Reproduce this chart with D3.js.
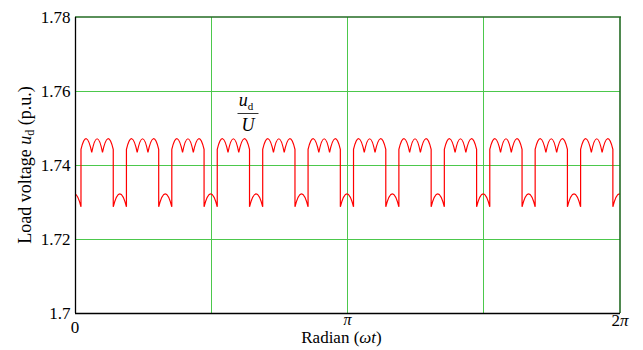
<!DOCTYPE html>
<html>
<head>
<meta charset="utf-8">
<script src="https://cdn.jsdelivr.net/npm/d3@7"></script>
<style>
  body { margin: 0; background: #fff; }
</style>
</head>
<body>
<svg id="chart" width="643" height="350" font-family="'Liberation Serif', 'Times New Roman', serif"></svg>
<script>
const yTicks = [1.7, 1.72, 1.74, 1.76, 1.78];
const yTickLabels = ['1.7', '1.72', '1.74', '1.76', '1.78'];
const xGrid = [Math.PI / 2, Math.PI, 3 * Math.PI / 2];

// rising / falling edges of the upper pulses (rad)
const riseAngles = [0.069, 0.593, 1.116, 1.640, 2.164, 2.687, 3.211, 3.734, 4.258, 4.782, 5.305, 5.829, 6.352];
const fallAngles = [-0.082, 0.441, 0.965, 1.488, 2.012, 2.536, 3.059, 3.583, 4.106, 4.630, 5.154, 5.677, 6.201];

// voltage levels (p.u.)
const highEdge = 1.7442;
const highPeak = 1.7471;
const highCusp = 1.7434;
const lowEdge = 1.7287;
const lowPeak = 1.7322;

const margin = {left: 75, right: 23, top: 17, bottom: 37};
const width = 643, height = 350;

const svg = d3.select('#chart');

const x = d3.scaleLinear()
  .domain([0, 2 * Math.PI])
  .range([margin.left, width - margin.right]);

const y = d3.scaleLinear()
  .domain([1.7, 1.78])
  .range([height - margin.bottom, margin.top]);

const snap = v => Math.floor(v) + 0.5;
const gridColor = '#4cc84c';

// grid
svg.append('g')
  .selectAll('line')
  .data(xGrid)
  .enter().append('line')
  .attr('x1', d => snap(x(d))).attr('x2', d => snap(x(d)))
  .attr('y1', y(1.7)).attr('y2', y(1.78))
  .attr('stroke', gridColor)
  .attr('stroke-width', 1);

svg.append('g')
  .selectAll('line')
  .data(yTicks.slice(1, -1))
  .enter().append('line')
  .attr('x1', x(0)).attr('x2', x(2 * Math.PI))
  .attr('y1', d => snap(y(d))).attr('y2', d => snap(y(d)))
  .attr('stroke', gridColor)
  .attr('stroke-width', 1);

// waveform
svg.append('clipPath')
  .attr('id', 'plot-clip')
  .append('rect')
  .attr('x', x(0)).attr('y', y(1.78))
  .attr('width', x(2 * Math.PI) - x(0))
  .attr('height', y(1.7) - y(1.78));

function hump(p, a, b, y0, y1, peak) {
  const cy = 2 * peak - (y0 + y1) / 2;
  p.quadraticCurveTo(x((a + b) / 2), y(cy), x(b), y(y1));
}

const p = d3.path();
p.moveTo(x(fallAngles[0]), y(lowEdge));
riseAngles.forEach((rise, i) => {
  // low hump between previous fall and this rise
  hump(p, fallAngles[i], rise, lowEdge, lowEdge, lowPeak);
  if (i === riseAngles.length - 1) return;
  const fall = fallAngles[i + 1];
  p.lineTo(x(rise), y(highEdge));
  const step = (fall - rise) / 3;
  for (let j = 0; j < 3; j++) {
    const a = rise + j * step;
    const b = a + step;
    hump(p, a, b, j === 0 ? highEdge : highCusp, j === 2 ? highEdge : highCusp, highPeak);
  }
  p.lineTo(x(fall), y(lowEdge));
});

svg.append('path')
  .attr('d', p.toString())
  .attr('clip-path', 'url(#plot-clip)')
  .attr('fill', 'none')
  .attr('stroke', '#ff0000')
  .attr('stroke-width', 1.2)
  .attr('stroke-linejoin', 'miter');

// frame: top and right dark green, left and bottom black
svg.append('line')
  .attr('x1', x(0)).attr('x2', x(2 * Math.PI) + 1)
  .attr('y1', y(1.78)).attr('y2', y(1.78))
  .attr('stroke', '#236b23').attr('stroke-width', 1.6);
svg.append('line')
  .attr('x1', x(2 * Math.PI)).attr('x2', x(2 * Math.PI))
  .attr('y1', y(1.78)).attr('y2', y(1.7))
  .attr('stroke', '#236b23').attr('stroke-width', 1.6);
svg.append('line')
  .attr('x1', snap(x(0))).attr('x2', snap(x(0)))
  .attr('y1', y(1.78)).attr('y2', y(1.7))
  .attr('stroke', '#000').attr('stroke-width', 1.3);
svg.append('line')
  .attr('x1', x(0)).attr('x2', x(2 * Math.PI))
  .attr('y1', snap(y(1.7))).attr('y2', snap(y(1.7)))
  .attr('stroke', '#000').attr('stroke-width', 1.3);

// y tick labels
svg.append('g')
  .selectAll('text')
  .data(yTicks)
  .enter().append('text')
  .attr('x', x(0) - 4.5)
  .attr('y', d => y(d) + 6)
  .attr('text-anchor', 'end')
  .attr('font-size', 17)
  .text((d, i) => yTickLabels[i]);

// x tick labels
svg.append('text')
  .attr('x', x(0)).attr('y', 333)
  .attr('text-anchor', 'middle').attr('font-size', 17)
  .text('0');
svg.append('text')
  .attr('x', x(Math.PI)).attr('y', 325)
  .attr('text-anchor', 'middle').attr('font-size', 16)
  .attr('font-style', 'italic')
  .text('π');
const twoPi = svg.append('text')
  .attr('x', x(2 * Math.PI)).attr('y', 326)
  .attr('text-anchor', 'middle').attr('font-size', 17);
twoPi.append('tspan').text('2');
twoPi.append('tspan').attr('font-style', 'italic').text('π');

// x axis title
const xTitle = svg.append('text')
  .attr('x', 341.5).attr('y', 342.5)
  .attr('text-anchor', 'middle').attr('font-size', 17);
xTitle.append('tspan').text('Radian (');
xTitle.append('tspan').attr('font-style', 'italic').text('ωt');
xTitle.append('tspan').text(')');

// y axis title
const yTitle = svg.append('text')
  .attr('transform', 'translate(31,165) rotate(-90)')
  .attr('text-anchor', 'middle').attr('font-size', 18);
yTitle.append('tspan').text('Load voltage ');
yTitle.append('tspan').attr('font-style', 'italic').text('u');
yTitle.append('tspan').attr('font-size', 12).attr('dy', 3).text('d');
yTitle.append('tspan').attr('dy', -3).text(' (p.u.)');

// annotation u_d / U
const frac = svg.append('g').attr('transform', 'translate(248,0)');
const num = frac.append('text')
  .attr('x', -2).attr('y', 106)
  .attr('text-anchor', 'middle').attr('font-size', 18);
num.append('tspan').attr('font-style', 'italic').text('u');
num.append('tspan').attr('font-size', 11).attr('dy', 4).text('d');
frac.append('line')
  .attr('x1', -10.5).attr('x2', 10.5)
  .attr('y1', 113.5).attr('y2', 113.5)
  .attr('stroke', '#333').attr('stroke-width', 1);
frac.append('text')
  .attr('x', 0).attr('y', 130.5)
  .attr('text-anchor', 'middle').attr('font-size', 18)
  .attr('font-style', 'italic')
  .text('U');
</script>
</body>
</html>
